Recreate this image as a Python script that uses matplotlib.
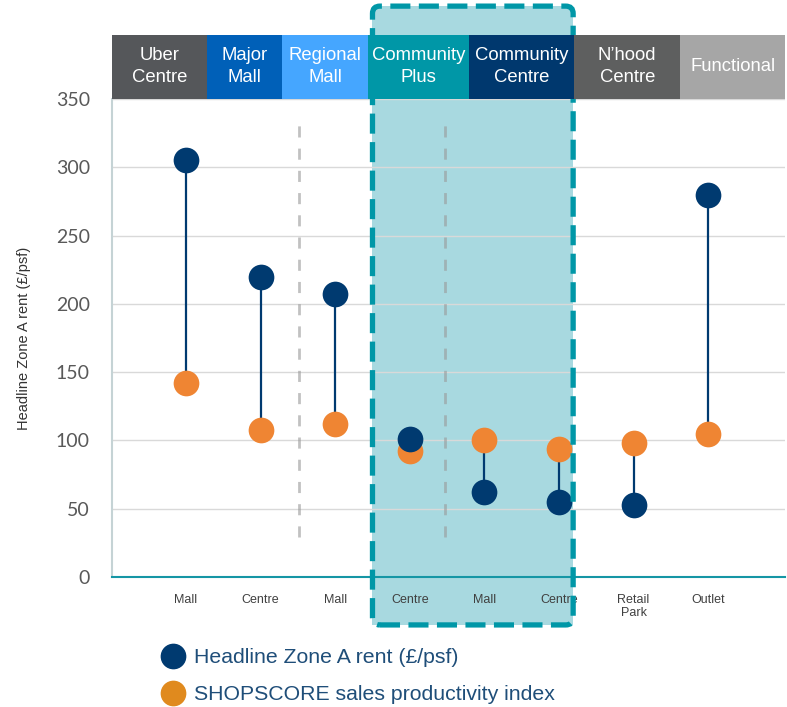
import matplotlib
matplotlib.use("Agg")
import matplotlib.pyplot as plt
from matplotlib.patches import Rectangle, FancyBboxPatch
from matplotlib.lines import Line2D

# ---- data ----
categories = ["Mall", "Centre", "Mall", "Centre", "Mall", "Centre", "Retail\nPark", "Outlet"]
headline_rent = [305, 220, 207, 101, 62, 55, 53, 280]
shopscore = [142, 108, 112, 92, 100, 94, 98, 105]
group_labels = ["Uber\nCentre", "Major\nMall", "Regional\nMall", "Community\nPlus",
                "Community\nCentre", "N\u2019hood\nCentre", "Functional"]
y_ticks = [0, 50, 100, 150, 200, 250, 300, 350]
y_label = "Headline Zone A rent (\u00a3/psf)"
legend_labels = ["Headline Zone A rent (\u00a3/psf)", "SHOPSCORE sales productivity index"]

# ---- style ----
NAVY = "#003a70"
ORANGE = "#ef8533"
group_colors = ["#55575a", "#0060b8", "#45a6ff", "#0097a7", "#00386e", "#5e5f5f", "#a6a6a6"]
group_edges = [-0.992, 0.282, 1.288, 2.441, 3.796, 5.204, 6.625, 8.03]

plt.rcParams["font.family"] = ["Liberation Sans", "DejaVu Sans"]

fig = plt.figure(figsize=(7.87, 7.07), dpi=100)
ax = fig.add_axes([112/787, 130/707, 673/787, 478/707])

x = list(range(len(categories)))
ax.set_xlim(-0.992, 8.03)
ax.set_ylim(0, 350)

# highlight region
hl_x0, hl_x1, hl_y0, hl_y1 = 2.50, 5.19, -35.1, 418.0
ax.add_patch(Rectangle((hl_x0, hl_y0), hl_x1 - hl_x0, hl_y1 - hl_y0,
                       facecolor="#a8d9e0", edgecolor="none", zorder=0.2, clip_on=False))
ax.add_patch(FancyBboxPatch((hl_x0, hl_y0), hl_x1 - hl_x0, hl_y1 - hl_y0,
                            boxstyle="round,pad=0,rounding_size=0.1", mutation_aspect=54.6,
                            facecolor="none", edgecolor="#0097a7", lw=3.8,
                            linestyle=(0, (3.8, 1.6)), zorder=3.5, clip_on=False))

# vertical separators
for xv in [1.51, 3.47]:
    ax.plot([xv, xv], [29, 334], color="#999999", alpha=0.6, lw=2.0,
            linestyle=(0, (4, 4)), zorder=1)

# grid
ax.set_axisbelow(True)
ax.yaxis.grid(True, color="#d9d9d9", lw=1.0)
ax.xaxis.grid(False)

# dumbbells
for xi, a, b in zip(x, headline_rent, shopscore):
    ax.plot([xi, xi], [a, b], color=NAVY, lw=1.6, zorder=2)
ax.plot(x, shopscore, "o", color=ORANGE, markersize=18.5, markeredgewidth=0, zorder=3)
ax.plot(x, headline_rent, "o", color=NAVY, markersize=18.5, markeredgewidth=0, zorder=3.2)

# header boxes
for i, (lab, col) in enumerate(zip(group_labels, group_colors)):
    x0, x1 = group_edges[i], group_edges[i + 1]
    ax.add_patch(Rectangle((x0, 350), x1 - x0, 46.9, facecolor=col, edgecolor="none",
                           zorder=5, clip_on=False))
    ax.text((x0 + x1) / 2, 373.5, lab, ha="center", va="center", color="white",
            fontsize=13.3, linespacing=1.38, zorder=6, clip_on=False)

# axes styling
ax.set_yticks(y_ticks)
ax.set_yticklabels([str(v) for v in y_ticks], fontsize=14, color="#595959", family=["Lato", "DejaVu Sans"])
ax.tick_params(axis="y", length=0, pad=16)
ax.set_xticks(x)
ax.set_xticklabels(categories, fontsize=9, color="#404040", linespacing=1.2)
ax.tick_params(axis="x", length=0, pad=12)
for lbl in ax.get_xticklabels():
    lbl.set_verticalalignment("top")

for s in ["top", "right"]:
    ax.spines[s].set_visible(False)
ax.spines["left"].set_color("#c5d3d5")
ax.spines["left"].set_linewidth(1.5)
ax.spines["bottom"].set_color("#1596a5")
ax.spines["bottom"].set_linewidth(1.5)
ax.spines["bottom"].set_zorder(3)

ax.set_ylabel(y_label, fontsize=10.5, color="#333333", labelpad=18)

# legend
handles = [Line2D([], [], marker="o", linestyle="none", color=NAVY, markersize=17.5),
           Line2D([], [], marker="o", linestyle="none", color="#e08a1e", markersize=17.5)]
fig.legend(handles, legend_labels, loc="upper left", bbox_to_anchor=(162/787, 1 - 648/707),
           frameon=False, fontsize=15.3, labelcolor="#1f4e79", handlelength=1.0,
           handletextpad=0.5, labelspacing=0.85, borderaxespad=0, borderpad=0)

fig.savefig("out.png", dpi=100)
